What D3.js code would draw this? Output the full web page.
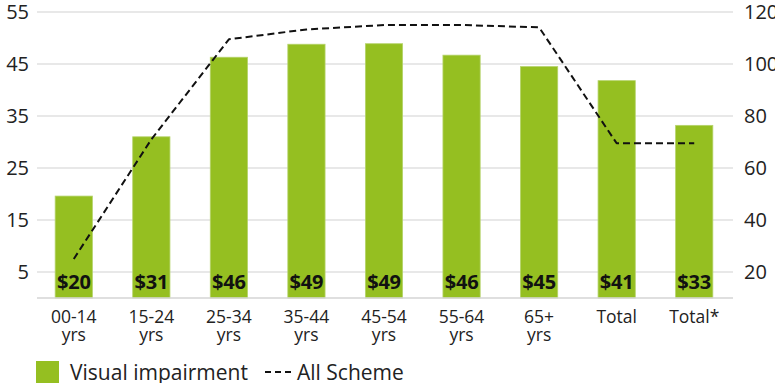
<!DOCTYPE html>
<html><head><meta charset="utf-8">
<script src="https://cdn.jsdelivr.net/npm/d3@7/dist/d3.min.js"></script>
<style>
html,body{margin:0;padding:0;background:#fff;}
svg{display:block;font-family:"Open Sans",sans-serif;}
</style></head>
<body><svg id="c" width="775" height="383"></svg>
<script>
const categories = ["00-14\nyrs","15-24\nyrs","25-34\nyrs","35-44\nyrs","45-54\nyrs","55-64\nyrs","65+\nyrs","Total","Total*"];
const visualImpairment = [19.6, 31.0, 46.3, 48.8, 48.9, 46.7, 44.5, 41.8, 33.2];
const barLabels = ["$20","$31","$46","$49","$49","$46","$45","$41","$33"];
const allScheme = [25, 71, 109.5, 113.3, 115, 115, 114.1, 69.5, 69.5];
const leftTicks = [5,15,25,35,45,55];
const rightTicks = [20,40,60,80,100,120];
const seriesNames = ["Visual impairment","All Scheme"];

const svg = d3.select("#c");
const pL = 35, pR = 733, pT = 12, pB = 298;
const x = d3.scaleBand().domain(categories).range([pL, pR]).paddingInner(0.52).paddingOuter(0.26);
const yL = d3.scaleLinear().domain([0,55]).range([pB, pT]);
const yR = d3.scaleLinear().domain([10,120]).range([pB, pT]);
const textCol = "#222";

// gridlines
svg.append("g").selectAll("line").data(leftTicks).join("line")
  .attr("x1", pL+2).attr("x2", pR).attr("y1", d=>yL(d)).attr("y2", d=>yL(d))
  .attr("stroke", "#e0e0e0").attr("stroke-width", 1.5);

// left axis
const gL = svg.append("g").attr("transform", `translate(${pL},0)`)
  .call(d3.axisLeft(yL).tickValues(leftTicks).tickSize(0).tickPadding(6));
gL.select(".domain").remove();
gL.selectAll("text").attr("font-size", 20).attr("fill", textCol).attr("font-family", "Open Sans");

// right axis
const gR = svg.append("g").attr("transform", `translate(${pR},0)`)
  .call(d3.axisRight(yR).tickValues(rightTicks).tickSize(0).tickPadding(11));
gR.select(".domain").remove();
gR.selectAll("text").attr("font-size", 20).attr("fill", textCol).attr("font-family", "Open Sans");

// bars
svg.append("g").selectAll("rect").data(visualImpairment).join("rect")
  .attr("x", (d,i)=>x(categories[i])).attr("width", x.bandwidth())
  .attr("y", d=>yL(d)).attr("height", d=>yL(0)-yL(d))
  .attr("fill", "#95bf21").attr("stroke", "#b5d36a").attr("stroke-width", 0.8);

// baseline
svg.append("line").attr("x1", pL+2).attr("x2", pR).attr("y1", yL(0)).attr("y2", yL(0))
  .attr("stroke", "#d4d4d4").attr("stroke-width", 1.5);

// bar labels
svg.append("g").selectAll("text").data(barLabels).join("text")
  .attr("x", (d,i)=>x(categories[i]) + x.bandwidth()/2).attr("y", yL(0) - 9)
  .attr("text-anchor", "middle").attr("font-size", 20).attr("font-weight", "bold")
  .attr("fill", "#111").attr("letter-spacing", -0.2).text(d=>d);

// line
const line = d3.line().x((d,i)=>x(categories[i]) + x.bandwidth()/2).y(d=>yR(d));
svg.append("path").datum(allScheme).attr("d", line)
  .attr("fill", "none").attr("stroke", "#111").attr("stroke-width", 2)
  .attr("stroke-dasharray", "7,4").attr("stroke-linejoin", "round");

// x labels (each line its own text)
const xg = svg.append("g");
categories.forEach(d=>{
  d.split("\n").forEach((s,k)=>{
    xg.append("text").attr("x", x(d)+x.bandwidth()/2).attr("y", 323 + k*17.5)
      .attr("text-anchor", "middle").attr("font-size", 17.5).attr("fill", textCol).text(s);
  });
});

// legend
const lg = svg.append("g");
lg.append("rect").attr("x", 36).attr("y", 361).attr("width", 23).attr("height", 23).attr("fill", "#95bf21");
lg.append("text").attr("x", 70).attr("y", 380).attr("font-size", 21).attr("fill", textCol).text(seriesNames[0]);
lg.append("line").attr("x1", 265).attr("x2", 293).attr("y1", 372).attr("y2", 372)
  .attr("stroke", "#111").attr("stroke-width", 2).attr("stroke-dasharray", "6,4");
lg.append("text").attr("x", 297).attr("y", 380).attr("font-size", 21).attr("fill", textCol).text(seriesNames[1]);
</script></body></html>
